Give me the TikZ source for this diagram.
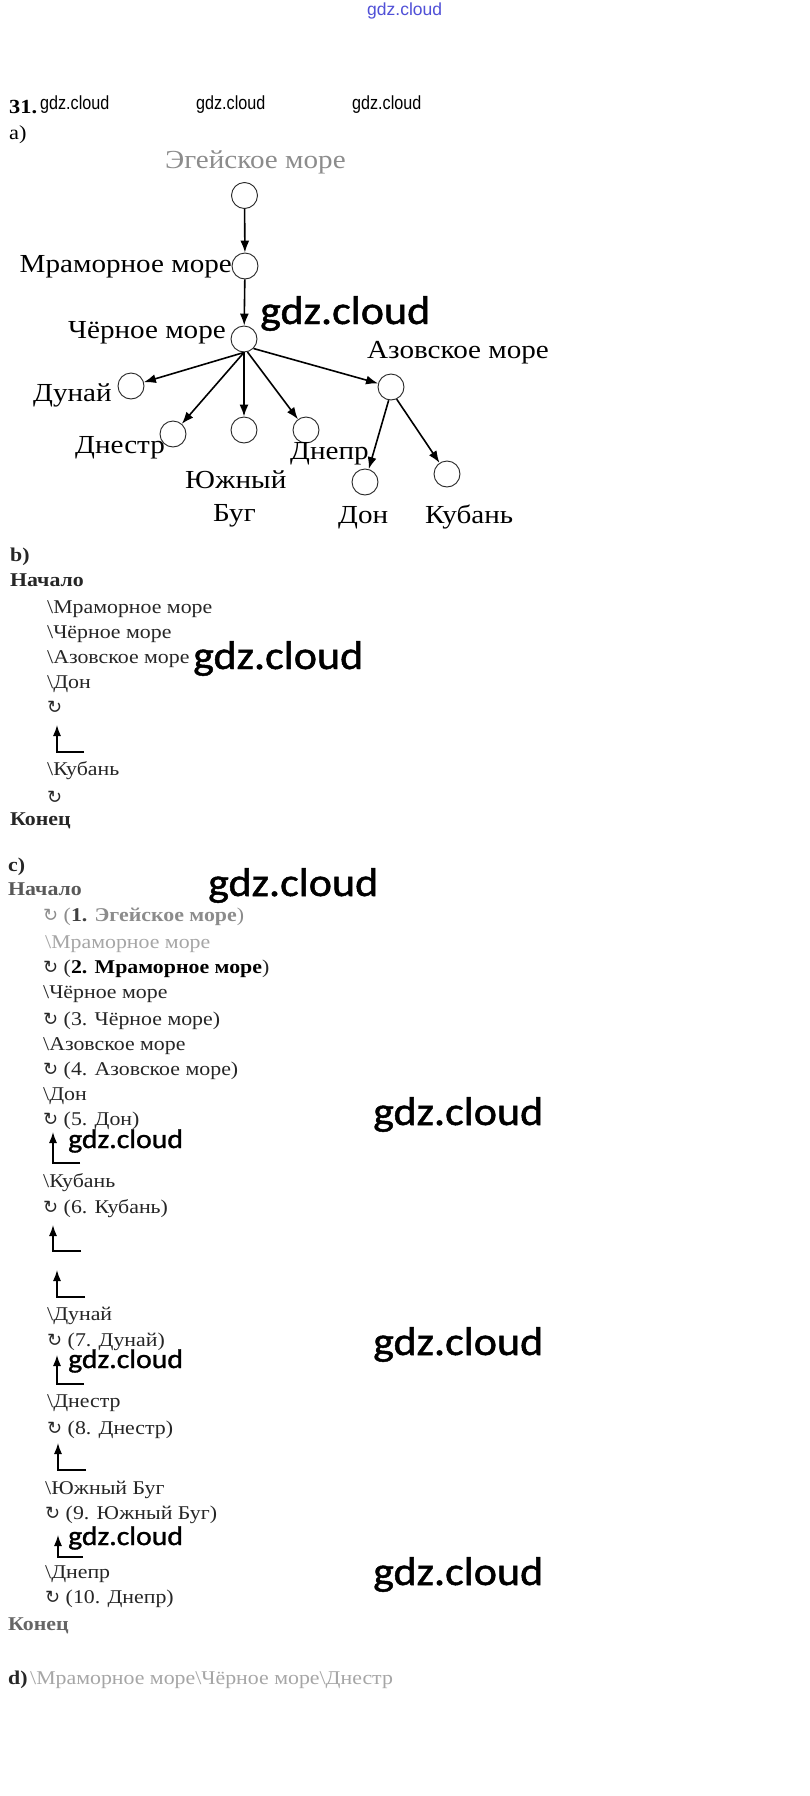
\documentclass[tikz,border=0pt]{standalone}
\usepackage{fontspec}
\setmainfont{Liberation Serif}[FakeStretch=1.12]
\newfontfamily\symf{DejaVu Sans}
\newfontfamily\wmf{Carlito}[FakeStretch=1.1,FakeBold=1.2]
\newfontfamily\narrowf{Liberation Sans}[FakeStretch=0.85]
\newfontfamily\bluef{Liberation Sans}
\usetikzlibrary{arrows.meta}
\definecolor{wmblue}{RGB}{80,80,215}
\newcommand{\myloop}{{\symf\fontsize{18}{18}\selectfont ↻}}
\begin{document}
\begin{tikzpicture}[x=1pt,y=-1pt,
  circ/.style={circle, draw=black!85, line width=0.9pt, minimum size=26pt, inner sep=0pt},
  lab/.style={font=\fontsize{26}{30}\selectfont, inner sep=0pt, anchor=base west},
  arr/.style={line width=1.6pt, -{Latex[length=12pt,width=9pt]}},
  ln/.style={font=\fontsize{19.5}{24}\selectfont, inner sep=0pt, anchor=base west, text=black!85},
  bld/.style={font=\fontsize{19.5}{24}\selectfont\bfseries, inner sep=0pt, anchor=base west, text=black!85},
  wm/.style={font=\wmf\fontsize{40}{44}\selectfont, inner sep=0pt, anchor=base west},
  wms/.style={font=\wmf\fontsize{27}{30}\selectfont, inner sep=0pt, anchor=base west},
  wmn/.style={font=\narrowf\fontsize{19}{22}\selectfont, inner sep=0pt, anchor=base west},
  larr/.style={line width=1.3pt, -{Latex[length=11pt,width=8pt]}}
]
\fill[white] (0,0) rectangle (809,1796);
\path[use as bounding box] (0,0) rectangle (809,1796);

% header
\node[font=\bluef\fontsize{17.5}{20}\selectfont, text=wmblue, inner sep=0pt, anchor=base west] (topwm) at (367,16) {gdz.cloud};
\node[font=\fontsize{20}{24}\selectfont\bfseries, inner sep=0pt, anchor=base west] (num) at (9,113) {31.};
\node[wmn] (hw1) at (40,109) {gdz.cloud};
\node[wmn] (hw2) at (196,109) {gdz.cloud};
\node[wmn] (hw3) at (352,109) {gdz.cloud};
\node[font=\fontsize{20}{24}\selectfont, inner sep=0pt, anchor=base west] (pa) at (9,139) {a)};

% tree
\node[circ] (e1) at (244.5,195.5) {};
\node[circ] (e2) at (245,266) {};
\node[circ] (ch) at (244,339) {};
\node[circ] (dun) at (131,386) {};
\node[circ] (dns) at (173,434) {};
\node[circ] (yb) at (244,430) {};
\node[circ] (dnp) at (306,430) {};
\node[circ] (az) at (391,387) {};
\node[circ] (don) at (365,482) {};
\node[circ] (kub) at (447,474) {};

\node[lab, text=black!45] (le1) at (165,168) {Эгейское море};
\node[lab, anchor=base east] (le2) at (232,272) {Мраморное море};
\node[lab] (lch) at (68,338) {Чёрное море};
\node[lab] (laz) at (367,358) {Азовское море};
\node[lab] (ldun) at (33,401) {Дунай};
\node[lab] (ldns) at (75,453) {Днестр};
\node[lab] (lyb1) at (185,488) {Южный};
\node[lab] (lyb2) at (213,521) {Буг};
\node[lab] (ldnp) at (290,459) {Днепр};
\node[lab] (ldon) at (338,523) {Дон};
\node[lab] (lkub) at (425,523) {Кубань};

\draw[arr] (e1) -- (e2);
\draw[arr] (e2) -- (ch);
\draw[arr] (ch.south) -- (dun);
\draw[arr] (ch.south) -- (dns);
\draw[arr] (ch.south) -- (yb);
\draw[arr] (ch.-75) -- (dnp);
\draw[arr] (ch.-45) -- (az);
\draw[arr] (az.-100) -- (don);
\draw[arr] (az.-65) -- (kub);

\node[wm] (w1) at (260,324) {gdz.cloud};

% part b
\node[bld] (bh) at (10,561) {b)};
\node[bld] (bs) at (10,586) {Начало};
\node[ln] (b1) at (47,613) {\textbackslash Мраморное море};
\node[ln] (b2) at (47,638) {\textbackslash Чёрное море};
\node[ln] (b3) at (47,663) {\textbackslash Азовское море};
\node[ln] (b4) at (47,688) {\textbackslash Дон};
\node[ln] (b5) at (47,713) {\myloop};
\coordinate (ba1) at (57,725);
\coordinate (bc1) at (57,752);
\coordinate (be1) at (84,752);
\draw[larr] (be1) -- (bc1) -- (ba1);
\node[ln] (b6) at (47,775) {\textbackslash Кубань};
\node[ln] (b7) at (47,803) {\myloop};
\node[bld] (bend) at (10,825) {Конец};
\node[wm] (w2) at (193,669) {gdz.cloud};

% part c
\node[bld] (chd) at (8,871) {c)};
\node[bld, text=black!65] (cs) at (8,895) {Начало};
\node[ln, text=black!45] (c1) at (43,921) {\myloop\ (\textbf{\textcolor{black!75}{1.} Эгейское море})};
\node[ln, text=black!35] (c2) at (45,948) {\textbackslash Мраморное море};
\node[ln] (c3) at (43,973) {\myloop\ (\textbf{\textcolor{black}{2. Мраморное море}})};
\node[ln] (c4) at (43,998) {\textbackslash Чёрное море};
\node[ln] (c5) at (43,1025) {\myloop\ (3. Чёрное море)};
\node[ln] (c6) at (43,1050) {\textbackslash Азовское море};
\node[ln] (c7) at (43,1075) {\myloop\ (4. Азовское море)};
\node[ln] (c8) at (43,1100) {\textbackslash Дон};
\node[ln] (c9) at (43,1125) {\myloop\ (5. Дон)};
\coordinate (ca1) at (53,1132);
\coordinate (cc1) at (53,1163);
\coordinate (ce1) at (80,1163);
\draw[larr] (ce1) -- (cc1) -- (ca1);
\node[ln] (c10) at (43,1187) {\textbackslash Кубань};
\node[ln] (c11) at (43,1213) {\myloop\ (6. Кубань)};
\coordinate (ca2) at (53,1225);
\coordinate (cc2) at (53,1251);
\coordinate (ce2) at (81,1251);
\draw[larr] (ce2) -- (cc2) -- (ca2);
\coordinate (ca3) at (57,1270);
\coordinate (cc3) at (57,1297);
\coordinate (ce3) at (85,1297);
\draw[larr] (ce3) -- (cc3) -- (ca3);
\node[ln] (c12) at (47,1320) {\textbackslash Дунай};
\node[ln] (c13) at (47,1346) {\myloop\ (7. Дунай)};
\coordinate (ca4) at (57,1355);
\coordinate (cc4) at (57,1384);
\coordinate (ce4) at (84,1384);
\draw[larr] (ce4) -- (cc4) -- (ca4);
\node[ln] (c14) at (47,1407) {\textbackslash Днестр};
\node[ln] (c15) at (47,1434) {\myloop\ (8. Днестр)};
\coordinate (ca5) at (58,1443);
\coordinate (cc5) at (58,1470);
\coordinate (ce5) at (86,1470);
\draw[larr] (ce5) -- (cc5) -- (ca5);
\node[ln] (c16) at (45,1494) {\textbackslash Южный Буг};
\node[ln] (c17) at (45,1519) {\myloop\ (9. Южный Буг)};
\coordinate (ca6) at (58,1535);
\coordinate (cc6) at (58,1557);
\coordinate (ce6) at (83,1557);
\draw[larr] (ce6) -- (cc6) -- (ca6);
\node[ln] (c18) at (45,1578) {\textbackslash Днепр};
\node[ln] (c19) at (45,1603) {\myloop\ (10. Днепр)};
\node[bld, text=black!60] (cend) at (8,1630) {Конец};
\node[bld] (dh) at (8,1684) {d)};
\node[ln, text=black!35] (dl) at (30,1684) {\textbackslash Мраморное море\textbackslash Чёрное море\textbackslash Днестр};

% watermarks
\node[wm] (w3) at (208,896) {gdz.cloud};
\node[wm] (w4) at (373,1125) {gdz.cloud};
\node[wm] (w5) at (373,1355) {gdz.cloud};
\node[wm] (w6) at (373,1585) {gdz.cloud};
\node[wms] (s1) at (68,1148) {gdz.cloud};
\node[wms] (s2) at (68,1368) {gdz.cloud};
\node[wms] (s3) at (68,1545) {gdz.cloud};
\end{tikzpicture}
\end{document}
